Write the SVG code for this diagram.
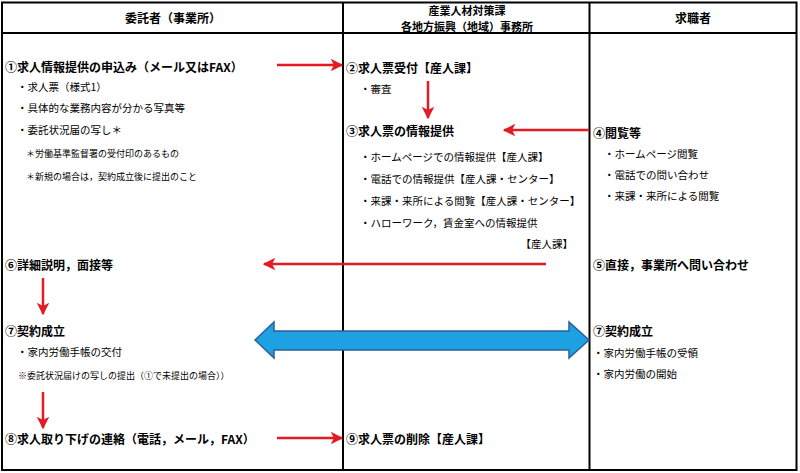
<svg xmlns="http://www.w3.org/2000/svg" width="800" height="473" viewBox="0 0 800 473">
<style>
text{font-family:"Noto Sans CJK JP","Noto Sans CJK SC",sans-serif;fill:#000;dominant-baseline:central}
.h{font-size:12px;font-weight:bold}
.hm{font-size:11px;font-weight:bold}
.t{font-size:12px;font-weight:bold}
.b{font-size:10.5px}
.s{font-size:9px}
.grid{stroke:#000;stroke-width:2;fill:none}
.red{stroke:#e31b23;stroke-width:2.5;fill:none;marker-end:url(#ah)}
</style>
<defs>
<marker id="ah" viewBox="0 0 10 10" refX="9" refY="5" markerWidth="5" markerHeight="5" orient="auto" markerUnits="strokeWidth">
<path d="M0,0 L10,5 L0,10 L2.5,5 z" fill="#e31b23"/>
</marker>
</defs>
<rect x="0" y="0" width="800" height="473" fill="#fff"/>
<g id="table">
<rect class="grid" x="2" y="2.5" width="794.5" height="467.5" stroke-width="2.5"/>
<line class="grid" x1="2" y1="33" x2="796" y2="33"/>
<line class="grid" x1="343" y1="2" x2="343" y2="470"/>
<line class="grid" x1="589.5" y1="2" x2="589.5" y2="470"/>
</g>
<g id="header-left"><text class="h" x="173" y="17" text-anchor="middle">委託者（事業所）</text></g>
<g id="header-mid"><text class="hm" x="467" y="10" text-anchor="middle">産業人材対策課</text><text class="hm" x="467" y="26" text-anchor="middle">各地方振興（地域）事務所</text></g>
<g id="header-right"><text class="h" x="693" y="17" text-anchor="middle">求職者</text></g>

<g id="n1">
<text class="t" x="5" y="66">①求人情報提供の申込み（メール又はFAX）</text>
<text class="b" x="17" y="86">・求人票（様式1）</text>
<text class="b" x="17" y="107">・具体的な業務内容が分かる写真等</text>
<text class="b" x="17" y="129">・委託状況届の写し＊</text>
<text class="s" x="26" y="153">＊労働基準監督署の受付印のあるもの</text>
<text class="s" x="26" y="176">＊新規の場合は，契約成立後に提出のこと</text>
</g>
<g id="n2">
<text class="t" x="346" y="67">②求人票受付【産人課】</text>
<text class="b" x="360" y="88">・審査</text>
</g>
<g id="n3">
<text class="t" x="346" y="130">③求人票の情報提供</text>
<text class="b" x="360" y="156">・ホームページでの情報提供【産人課】</text>
<text class="b" x="360" y="178">・電話での情報提供【産人課・センター】</text>
<text class="b" x="360" y="200">・来課・来所による閲覧【産人課・センター】</text>
<text class="b" x="360" y="222">・ハローワーク，賃金室への情報提供</text>
<text class="b" x="573" y="243" text-anchor="end">【産人課】</text>
</g>
<g id="n4">
<text class="t" x="593" y="132">④閲覧等</text>
<text class="b" x="604" y="153">・ホームページ閲覧</text>
<text class="b" x="604" y="174">・電話での問い合わせ</text>
<text class="b" x="604" y="195">・来課・来所による閲覧</text>
</g>
<g id="n5"><text class="t" x="593" y="264">⑤直接，事業所へ問い合わせ</text></g>
<g id="n6"><text class="t" x="5" y="264">⑥詳細説明，面接等</text></g>
<g id="n7a">
<text class="t" x="5" y="330">⑦契約成立</text>
<text class="b" x="17" y="351">・家内労働手帳の交付</text>
<text class="s" x="18" y="375">※委託状況届けの写しの提出（①で未提出の場合））</text>
</g>
<g id="n7b">
<text class="t" x="593" y="330">⑦契約成立</text>
<text class="b" x="593" y="352">・家内労働手帳の受領</text>
<text class="b" x="593" y="373">・家内労働の開始</text>
</g>
<g id="n8"><text class="t" x="5" y="438">⑧求人取り下げの連絡（電話，メール，FAX）</text></g>
<g id="n9"><text class="t" x="346" y="438">⑨求人票の削除【産人課】</text></g>

<g id="connectors">
<line class="red" x1="277" y1="65" x2="342" y2="65"/>
<line class="red" x1="428" y1="81" x2="428" y2="118"/>
<line class="red" x1="589" y1="130" x2="504" y2="130"/>
<line class="red" x1="546" y1="264" x2="264" y2="264"/>
<line class="red" x1="43" y1="278" x2="43" y2="314"/>
<line class="red" x1="43" y1="392" x2="43" y2="428"/>
<line class="red" x1="277" y1="438" x2="342" y2="438"/>
<polygon points="255,340 274,322 274,331 569,331 569,322 589,340 569,358 569,350 274,350 274,358" fill="#1da1e2" stroke="#2b5f9a" stroke-width="1.5" stroke-linejoin="miter"/>
</g>
</svg>
